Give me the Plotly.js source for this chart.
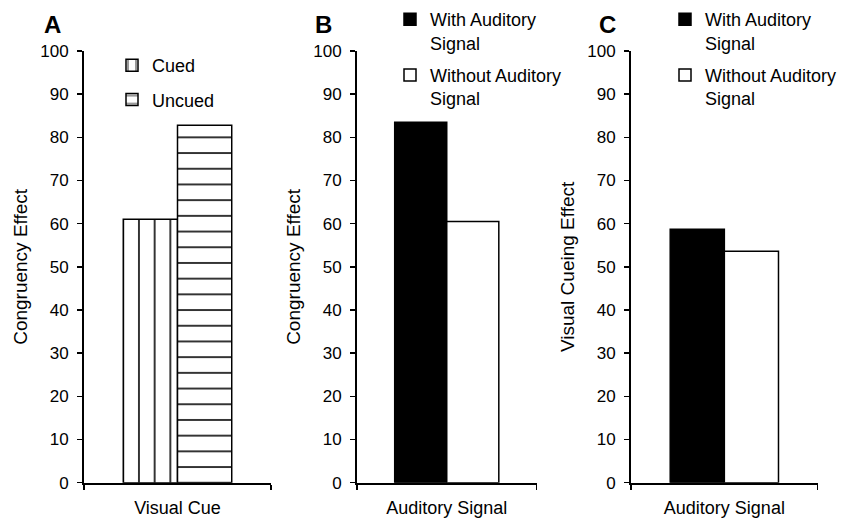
<!DOCTYPE html>
<html>
<head>
<meta charset="utf-8">
<script src="https://cdn.plot.ly/plotly-3.0.1.min.js"></script>
<style>html,body{margin:0;padding:0;background:#fff;}#chart{width:849px;height:518px;}</style>
</head>
<body>
<div id="chart"></div>
<script>
// ---- data ----
const catA = ['Visual Cue'];
const catB = ['Auditory Signal'];
const catC = ['Auditory Signal'];
const namesA = ['Cued', 'Uncued'];
const cuedA = [61.0];
const uncuedA = [82.8];
const namesBC = ['With Auditory<br>Signal', 'Without Auditory<br>Signal'];
const withB = [83.5];
const withoutB = [60.5];
const withC = [58.7];
const withoutC = [53.6];
const yTicks = [0, 10, 20, 30, 40, 50, 60, 70, 80, 90, 100];
const yTitles = ['Congruency Effect', 'Congruency Effect', 'Visual Cueing Effect'];
const panelLabels = ['A', 'B', 'C'];

const FONT = 'Liberation Sans, Arial, sans-serif';
const lineStyle = {color: '#000', width: 1.5};

const traces = [
  {type: 'bar', x: catA, y: cuedA, name: namesA[0], xaxis: 'x', yaxis: 'y', legend: 'legend', legendgroup: 'a1',
   marker: {color: '#fff', line: lineStyle, pattern: {shape: '|', fgcolor: '#000', bgcolor: '#fff', size: 15.7, solidity: 0.1}}},
  {type: 'bar', x: catA, y: uncuedA, name: namesA[1], xaxis: 'x', yaxis: 'y', legend: 'legend', legendgroup: 'a2',
   marker: {color: '#fff', line: lineStyle, pattern: {shape: '-', fgcolor: '#000', bgcolor: '#fff', size: 15.7, solidity: 0.1}}},
  {type: 'bar', x: catB, y: withB, name: namesBC[0], xaxis: 'x2', yaxis: 'y2', legend: 'legend2', legendgroup: 'b1',
   marker: {color: '#000', line: lineStyle}},
  {type: 'bar', x: catB, y: withoutB, name: namesBC[1], xaxis: 'x2', yaxis: 'y2', legend: 'legend2', legendgroup: 'b2',
   marker: {color: '#fff', line: lineStyle}},
  {type: 'bar', x: catC, y: withC, name: namesBC[0], xaxis: 'x3', yaxis: 'y3', legend: 'legend3', legendgroup: 'c1',
   marker: {color: '#000', line: lineStyle}},
  {type: 'bar', x: catC, y: withoutC, name: namesBC[1], xaxis: 'x3', yaxis: 'y3', legend: 'legend3', legendgroup: 'c2',
   marker: {color: '#fff', line: lineStyle}}
];
traces.forEach(t => { t.hoverinfo = 'skip'; });

const W = 849, H = 518;
const yDom = [1 - 482.7 / H, 1 - 51 / H];
const xDoms = [[84 / W, 271 / W], [357 / W, 536.5 / W], [631 / W, 817.7 / W]];

function xAx(dom, anchor) {
  return {domain: dom, anchor: anchor, type: 'category', showline: true, linecolor: '#000', linewidth: 2,
    ticks: 'outside', tickson: 'boundaries', ticklen: 5, tickwidth: 1.5, tickcolor: '#000',
    ticklabelstandoff: 8,
    showgrid: false, zeroline: false, automargin: false, fixedrange: true,
    tickfont: {family: FONT, size: 18, color: '#000'}};
}
function yAx(dom, anchor, title) {
  return {domain: dom, anchor: anchor, range: [0, 100], tickvals: yTicks, showline: true, linecolor: '#000', linewidth: 2,
    ticks: 'outside', ticklen: 5, tickwidth: 1.5, tickcolor: '#000', showgrid: false, zeroline: false,
    ticklabelstandoff: 5,
    automargin: false, fixedrange: true, tickfont: {family: FONT, size: 17, color: '#000'},
    title: {text: title, font: {family: FONT, size: 19, color: '#000'}, standoff: 8}};
}
function leg(x, y, gap) {
  return {x: x, y: y, xanchor: 'left', yanchor: 'top', xref: 'paper', yref: 'paper', bgcolor: 'rgba(0,0,0,0)',
    font: {family: FONT, size: 18, color: '#000'}, valign: 'top', traceorder: 'grouped', tracegroupgap: gap};
}

const layout = {
  width: W, height: H, margin: {l: 0, r: 0, t: 0, b: 0},
  paper_bgcolor: '#fff', plot_bgcolor: '#fff', barmode: 'group', bargap: 0.42, bargroupgap: 0,
  font: {family: FONT, color: '#000'},
  xaxis: xAx(xDoms[0], 'y'), yaxis: yAx(yDom, 'x', yTitles[0]),
  xaxis2: xAx(xDoms[1], 'y2'), yaxis2: yAx(yDom, 'x2', yTitles[1]),
  xaxis3: xAx(xDoms[2], 'y3'), yaxis3: yAx(yDom, 'x3', yTitles[2]),
  legend: leg(112 / W, 1 - 47 / H, 8),
  legend2: leg(390 / W, 1 - 1 / H, 6),
  legend3: leg(665 / W, 1 - 1 / H, 6),
  annotations: panelLabels.map((t, i) => ({
    text: '<b>' + t + '</b>', xref: 'paper', yref: 'paper', showarrow: false,
    x: [52.5, 323, 607][i] / W, y: 1 - 24 / H, xanchor: 'center', yanchor: 'middle',
    font: {family: FONT, size: 24, color: '#000'}
  }))
};

Plotly.newPlot('chart', traces, layout, {displayModeBar: false, staticPlot: true});
</script>
</body>
</html>
